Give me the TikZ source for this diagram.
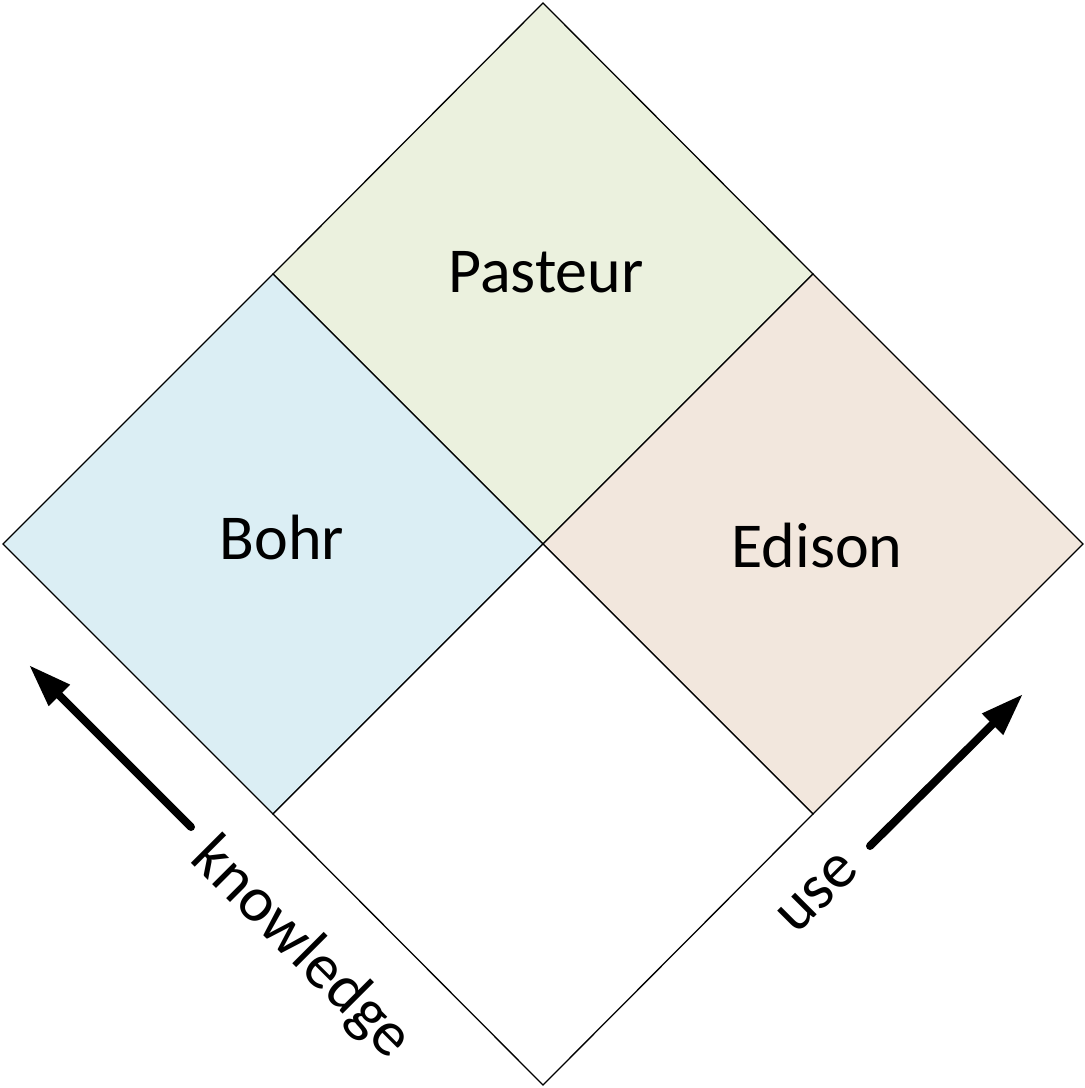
\documentclass[tikz,border=0pt]{standalone}
\usepackage{fontspec}
\setmainfont{Carlito}
\usetikzlibrary{arrows.meta}
\definecolor{pgreen}{HTML}{EBF1DE}
\definecolor{bblue}{HTML}{DBEEF4}
\definecolor{etan}{HTML}{F2E7DD}
\tikzset{
  quad/.style={draw=black, line width=1.3pt, line join=miter},
  lbl/.style={font=\fontsize{64}{72}\selectfont, inner sep=0pt},
  axisarrow/.style={line width=8pt, line cap=round, -{Triangle[length=43pt,width=28pt]}}
}
\begin{document}
\begin{tikzpicture}[x=1pt,y=-1pt]
\useasboundingbox (0,0) rectangle (1085,1088);
\coordinate (T) at (543,3);
\coordinate (L) at (3,544);
\coordinate (R) at (1083,544);
\coordinate (B) at (543,1085);
\coordinate (C) at (543,544);
\coordinate (TL) at (273,274);
\coordinate (TR) at (813,274);
\coordinate (BL) at (273,814);
\coordinate (BR) at (813,814);
% quadrants
\filldraw[quad, fill=pgreen] (T) -- (TR) -- (C) -- (TL) -- cycle;
\filldraw[quad, fill=bblue] (TL) -- (C) -- (BL) -- (L) -- cycle;
\filldraw[quad, fill=etan] (TR) -- (R) -- (BR) -- (C) -- cycle;
\filldraw[quad, fill=white] (C) -- (BR) -- (B) -- (BL) -- cycle;
% labels
\node[lbl] (pasteur) at (546,272) {Pasteur};
\node[lbl] (bohr) at (282,537) {Bohr};
\node[lbl] (edison) at (817,546) {Edison};
\node[lbl, rotate=-45] (know) at (301,949) {knowledge};
\node[lbl, rotate=45] (use) at (818,893) {use};
% arrows
\coordinate (k0) at (191,827);
\coordinate (k1) at (29,665);
\coordinate (u0) at (870,846);
\coordinate (u1) at (1023,694);
\draw[axisarrow] (k0) -- (k1);
\draw[axisarrow] (u0) -- (u1);
\end{tikzpicture}
\end{document}
